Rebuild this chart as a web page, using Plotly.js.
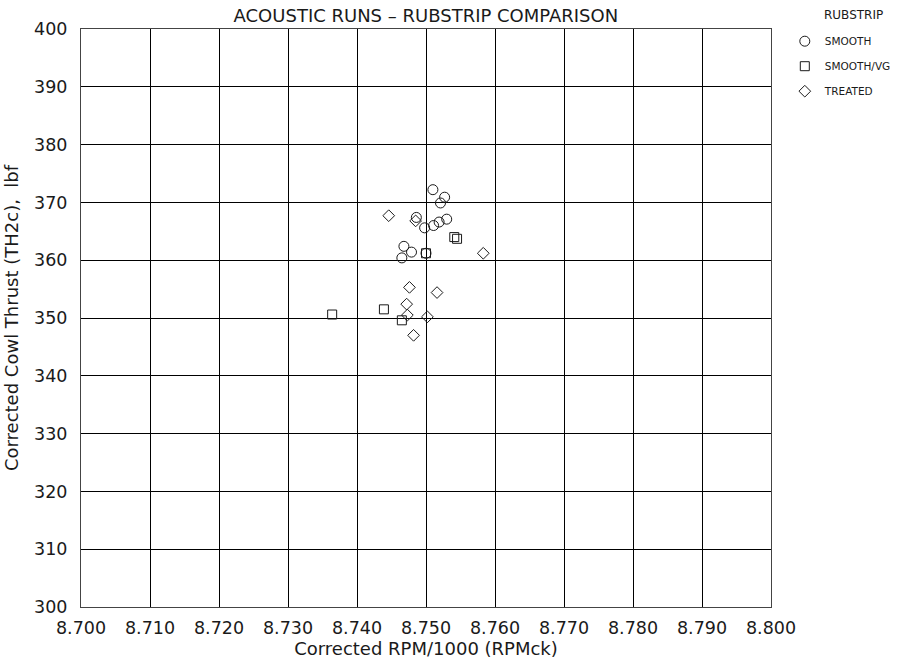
<!DOCTYPE html>
<html>
<head>
<meta charset="utf-8">
<script src="https://cdn.plot.ly/plotly-3.0.1.min.js"></script>
<style>
  html, body { margin: 0; padding: 0; background: #fff; }
  #chart { width: 910px; height: 663px; }
</style>
</head>
<body>
<div id="chart"></div>
<script>
// Corrected RPM/1000 and corrected cowl thrust (lbf) per rubstrip configuration
const smoothRpm    = [8.7510, 8.7527, 8.7521, 8.7486, 8.7498, 8.7511, 8.7519, 8.7530, 8.7468, 8.7479, 8.7465, 8.7500];
const smoothThrust = [372.2, 370.9, 369.9, 367.4, 365.6, 366.0, 366.6, 367.1, 362.4, 361.4, 360.4, 361.2];

const vgRpm    = [8.7541, 8.7545, 8.7500, 8.7364, 8.7439, 8.7465];
const vgThrust = [364.0, 363.7, 361.2, 350.6, 351.5, 349.6];

const treatedRpm    = [8.7446, 8.7485, 8.7583, 8.7476, 8.7516, 8.7472, 8.7473, 8.7502, 8.7482];
const treatedThrust = [367.7, 366.8, 361.2, 355.3, 354.4, 352.4, 350.5, 350.2, 347.0];

const xTicks = [8.700, 8.710, 8.720, 8.730, 8.740, 8.750, 8.760, 8.770, 8.780, 8.790, 8.800];
const yTicks = [300, 310, 320, 330, 340, 350, 360, 370, 380, 390, 400];

const FONT = "'DejaVu Sans', sans-serif";
const INK = '#1a1a1a';

function series(name, x, y, symbol, size) {
  return {
    type: 'scatter', mode: 'markers', name: name, x: x, y: y,
    legendgroup: name,
    marker: { symbol: symbol, size: size, color: 'rgba(0,0,0,0)',
              line: { color: INK, width: 1 } },
    cliponaxis: false
  };
}

const data = [
  series('SMOOTH', smoothRpm, smoothThrust, 'circle', 10),
  series('SMOOTH/VG', vgRpm, vgThrust, 'square', 9),
  series('TREATED', treatedRpm, treatedThrust, 'diamond', 9)
];

const layout = {
  width: 910, height: 663,
  margin: { l: 81, r: 139, t: 29, b: 56, autoexpand: false },
  paper_bgcolor: '#fff', plot_bgcolor: '#fff',
  font: { family: FONT, color: INK, size: 15 },
  title: { text: 'ACOUSTIC RUNS – RUBSTRIP COMPARISON', font: { family: FONT, size: 18, color: INK },
           x: 0.468, xanchor: 'center', y: 0.986, yanchor: 'top' },
  xaxis: {
    range: [8.700, 8.800], tickvals: xTicks, ticktext: xTicks.map(v => v.toFixed(3)),
    showgrid: true, gridcolor: '#000', gridwidth: 1,
    showline: true, mirror: true, linecolor: '#444', linewidth: 1,
    zeroline: false, ticks: '', tickfont: { size: 17.5 }, ticklabelstandoff: 5,
    title: { text: 'Corrected RPM/1000 (RPMck)', font: { size: 18 }, standoff: 3 }
  },
  yaxis: {
    range: [300, 400], tickvals: yTicks, ticktext: yTicks.map(String),
    showgrid: true, gridcolor: '#000', gridwidth: 1,
    showline: true, mirror: true, linecolor: '#444', linewidth: 1,
    zeroline: false, ticks: '', tickfont: { size: 17.5 }, ticklabelstandoff: 9,
    title: { text: 'Corrected Cowl Thrust (TH2c),  lbf', font: { size: 18 }, standoff: 10 }
  },
  legend: {
    x: 1.02, xanchor: 'left', y: 1.004, yanchor: 'top',
    font: { size: 10.5 }, itemsizing: 'trace', itemwidth: 30,
    traceorder: 'grouped', tracegroupgap: 6,
    bgcolor: 'rgba(0,0,0,0)'
  },
  annotations: [{
    text: 'RUBSTRIP', xref: 'paper', yref: 'paper', x: 1.074, y: 1.025,
    xanchor: 'left', yanchor: 'middle', showarrow: false, font: { size: 12, color: INK }
  }],
  showlegend: true
};

Plotly.newPlot('chart', data, layout, { displayModeBar: false, staticPlot: true });
</script>
</body>
</html>
